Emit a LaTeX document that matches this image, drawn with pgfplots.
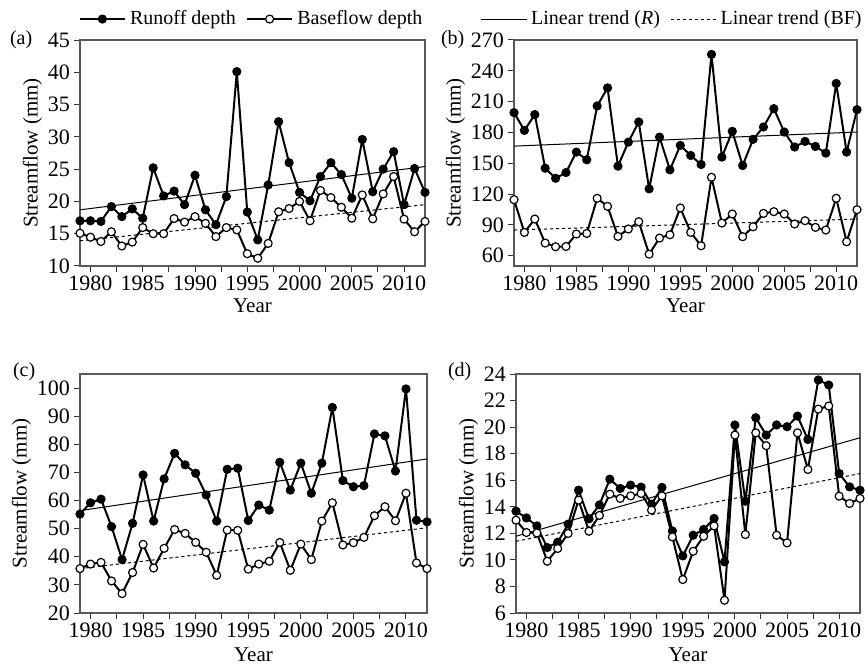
\documentclass[border=0pt]{standalone}
\usepackage{fontspec}
\setmainfont{Liberation Serif}
\usepackage{pgfplots}
\usepackage{pgfplotstable}
\pgfplotsset{compat=1.18}

\pgfplotstableread{
year R BF
1979 17.0 15.07
1980 17.0 14.46
1981 16.9 13.8
1982 19.2 15.3
1983 17.65 13.1
1984 18.84 13.7
1985 17.4 15.95
1986 25.2 15.0
1987 20.85 15.0
1988 21.6 17.35
1989 19.5 16.8
1990 24.05 17.65
1991 18.7 16.6
1992 16.4 14.55
1993 20.75 15.95
1994 40.1 15.6
1995 18.35 11.9
1996 14.04 11.2
1997 22.55 13.5
1998 32.35 18.4
1999 26.0 18.9
2000 21.4 20.0
2001 20.1 17.0
2002 23.85 21.7
2003 26.0 20.6
2004 24.15 19.1
2005 20.5 17.4
2006 29.6 21.0
2007 21.5 17.3
2008 25.0 21.16
2009 27.7 23.85
2010 19.5 17.25
2011 25.1 15.3
2012 21.4 16.9
}\dataA

\pgfplotstableread{
year R BF
1979 199.3 114.6
1980 182.0 82.7
1981 197.4 95.7
1982 145.2 72.3
1983 135.4 68.7
1984 141.0 69.0
1985 160.9 81.1
1986 153.4 81.7
1987 205.8 115.9
1988 223.4 108.1
1989 147.2 78.8
1990 170.6 86.0
1991 190.2 93.1
1992 125.1 61.5
1993 175.5 77.2
1994 143.6 80.4
1995 167.4 106.5
1996 157.6 82.7
1997 148.8 69.7
1998 256.0 136.4
1999 156.0 91.8
2000 181.1 100.6
2001 147.8 78.5
2002 173.3 88.2
2003 185.3 101.2
2004 203.2 102.9
2005 180.4 100.6
2006 165.8 90.9
2007 171.3 94.1
2008 166.4 87.6
2009 159.9 85.0
2010 227.7 115.9
2011 160.9 73.6
2012 202.2 104.8
}\dataB

\pgfplotstableread{
year R BF
1979 55.2 35.8
1980 59.2 37.4
1981 60.5 38.0
1982 50.7 31.4
1983 39.0 26.9
1984 51.9 34.4
1985 69.1 44.4
1986 52.7 36.0
1987 67.7 43.0
1988 76.8 49.7
1989 72.7 48.3
1990 69.7 45.1
1991 62.0 41.6
1992 52.7 33.4
1993 71.1 49.5
1994 71.5 49.4
1995 52.9 35.6
1996 58.4 37.4
1997 56.6 38.4
1998 73.6 45.1
1999 63.7 35.2
2000 73.3 44.5
2001 62.6 39.0
2002 73.3 52.7
2003 93.1 59.2
2004 67.1 44.2
2005 64.9 45.0
2006 65.3 46.9
2007 83.7 54.6
2008 83.0 57.8
2009 70.5 52.8
2010 99.7 62.6
2011 53.0 37.8
2012 52.4 35.8
}\dataC

\pgfplotstableread{
year R BF
1979 13.67 12.99
1980 13.16 12.06
1981 12.56 12.03
1982 10.93 9.9
1983 11.33 10.86
1984 12.69 11.99
1985 15.25 14.5
1986 13.09 12.16
1987 14.14 13.35
1988 16.08 14.95
1989 15.38 14.63
1990 15.63 14.82
1991 15.48 15.0
1992 14.2 13.75
1993 15.46 14.82
1994 12.18 11.73
1995 10.3 8.52
1996 11.86 10.65
1997 12.29 11.78
1998 13.12 12.56
1999 9.85 6.96
2000 20.16 19.4
2001 14.42 11.91
2002 20.71 19.57
2003 19.4 18.6
2004 20.16 11.86
2005 20.03 11.28
2006 20.83 19.57
2007 19.07 16.81
2008 23.55 21.36
2009 23.17 21.59
2010 16.51 14.8
2011 15.5 14.25
2012 15.25 14.63
}\dataD

\pgfplotsset{
  panel/.style={
    scale only axis,
    anchor=south west,
    xmin=1979, xmax=2012,
    xtick={1980,1985,...,2010},
    minor x tick num=1,
    tick align=outside,
    xtick pos=bottom, ytick pos=left,
    major tick length=3pt, minor tick length=3pt,
    axis line style={black!65, line width=0.6pt},
    tick style={black!80, line width=0.5pt},
    /pgf/number format/assume math mode=true,
    /pgf/number format/1000 sep={},
    ticklabel style={font=\fontsize{11}{13}\selectfont},
    label style={font=\fontsize{10.5}{12}\selectfont},
    xticklabel style={yshift=1.5pt},
    yticklabel style={xshift=1.5pt},
    xlabel={Year}, ylabel={Streamflow (mm)},
    xlabel style={yshift=3pt},
    ylabel style={yshift=-4pt},
    clip=false,
    legend image code/.code={\draw[#1, mark repeat=2, mark phase=2] plot coordinates {(0cm,0cm) (0.4cm,0cm) (0.8cm,0cm)};},
  },
  ro/.style={black, line width=1pt, line join=round, mark=*, mark size=2pt, mark options={solid, fill=black, line width=0.6pt}},
  bfs/.style={black, line width=1pt, line join=round, mark=*, mark size=2pt, mark options={solid, fill=white, line width=0.6pt}},
  trR/.style={black, line width=0.5pt, no marks},
  trB/.style={black, line width=0.5pt, no marks, dash pattern=on 1.6pt off 1.4pt},
}

\begin{document}
\begin{tikzpicture}
\path[use as bounding box] (0,0) rectangle (432.5pt,334.5pt);

% (a)
\begin{axis}[panel, at={(40pt,201.5pt)}, width=172.5pt, height=113pt,
  ymin=10, ymax=45, ytick={10,15,...,45},
  legend style={at={(0.5,1)}, anchor=south, yshift=4pt, draw=none, fill=none,
    font=\fontsize{10}{12}\selectfont, inner sep=0pt,
    /tikz/every even column/.append style={column sep=3pt}},
  legend columns=2]
\addplot[trR, forget plot] coordinates {(1979,18.7) (2012,25.4)};
\addplot[trB, forget plot] coordinates {(1979,13.9) (2012,19.5)};
\addplot[ro] table[x=year,y=R] {\dataA};
\addlegendentry{Runoff depth}
\addplot[bfs] table[x=year,y=BF] {\dataA};
\addlegendentry{Baseflow depth}
\end{axis}

% (b)
\begin{axis}[panel, at={(257pt,201.5pt)}, width=171.5pt, height=113pt,
  ymin=50, ymax=270, ytick={60,90,...,270},
  legend style={at={(0.464,1)}, anchor=south, yshift=4pt, draw=none, fill=none,
    font=\fontsize{10}{12}\selectfont, inner sep=0pt,
    /tikz/every even column/.append style={column sep=3pt}},
  legend columns=2]
\addplot[ro, forget plot] table[x=year,y=R] {\dataB};
\addplot[bfs, forget plot] table[x=year,y=BF] {\dataB};
\addplot[trR] coordinates {(1979,166.7) (2012,180.4)};
\addlegendentry{Linear trend (\textit{R})}
\addplot[trB] coordinates {(1979,85.0) (2012,95.7)};
\addlegendentry{Linear trend (BF)}
\end{axis}

% (c)
\begin{axis}[panel, at={(40pt,28pt)}, width=173.5pt, height=119.5pt,
  ymin=20, ymax=105, ytick={20,30,...,100},
  xlabel style={yshift=-1pt}]
\addplot[trR] coordinates {(1979,56.4) (2012,74.8)};
\addplot[trB] coordinates {(1979,35.8) (2012,50.3)};
\addplot[ro] table[x=year,y=R] {\dataC};
\addplot[bfs] table[x=year,y=BF] {\dataC};
\end{axis}

% (d)
\begin{axis}[panel, at={(258pt,28pt)}, width=172pt, height=119.5pt,
  ymin=6, ymax=24, ytick={6,8,...,24},
  xlabel style={yshift=-1pt}]
\addplot[trR] coordinates {(1979,11.78) (2012,19.2)};
\addplot[trB] coordinates {(1979,11.4) (2012,16.5)};
\addplot[ro] table[x=year,y=R] {\dataD};
\addplot[bfs] table[x=year,y=BF] {\dataD};
\end{axis}

\node[anchor=west, font=\fontsize{10}{12}\selectfont] at (1.5pt,314.5pt) {(a)};
\node[anchor=west, font=\fontsize{10}{12}\selectfont] at (217pt,314.5pt) {(b)};
\node[anchor=west, font=\fontsize{10}{12}\selectfont] at (3pt,148.5pt) {(c)};
\node[anchor=west, font=\fontsize{10}{12}\selectfont] at (220.5pt,148.5pt) {(d)};
\end{tikzpicture}
\end{document}
